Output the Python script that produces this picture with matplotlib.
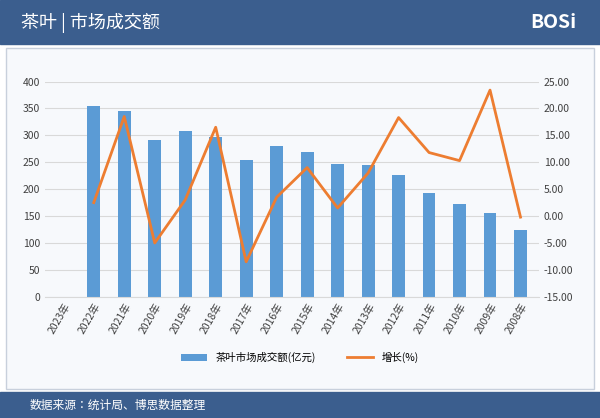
import matplotlib
matplotlib.use("Agg")
import matplotlib.pyplot as plt
import numpy as np
from matplotlib import font_manager
names = {f.name for f in font_manager.fontManager.ttflist}
cjk = [n for n in ["Noto Sans CJK SC","Noto Sans CJK JP","Noto Sans CJK TC","Noto Sans CJK KR"] if n in names]
plt.rcParams['font.family'] = cjk + ['DejaVu Sans']

years = ["2023年","2022年","2021年","2020年","2019年","2018年","2017年","2016年","2015年","2014年","2013年","2012年","2011年","2010年","2009年","2008年"]
turnover = [np.nan,355,346,292,308,297,255,280,269,247,244,226,192,172,156,125]
growth = [np.nan,2.5,18.5,-5.0,3.0,16.5,-8.5,3.5,9.0,1.5,8.0,18.3,11.8,10.3,23.4,-0.2]

fig = plt.figure(figsize=(6,4.18), dpi=100)
fig.patch.set_facecolor("white")
hdr = "#3b5e8e"
fig.add_artist(plt.Rectangle((0,0.895),1,0.105,color=hdr,transform=fig.transFigure,zorder=-5))
fig.add_artist(plt.Rectangle((0,0),1,0.062,color=hdr,transform=fig.transFigure,zorder=-5))
fig.add_artist(plt.Rectangle((0.01,0.07),0.98,0.815,facecolor="#f7f9fc",edgecolor="#c8d0dc",transform=fig.transFigure,zorder=-5))
fig.text(0.035,0.945,"茶叶 | 市场成交额",color="white",fontsize=13,va="center")
fig.text(0.05,0.031,"数据来源：统计局、博思数据整理",color="white",fontsize=8.5,va="center")
fig.text(0.96,0.945,"BOSi",color="white",fontsize=14,fontweight="bold",va="center",ha="right")

ax = fig.add_axes([0.075,0.29,0.823,0.515])
ax.set_facecolor("none")
x = np.arange(len(years))
ax.bar(x,turnover,width=0.42,color="#5b9bd5",label="茶叶市场成交额(亿元)",zorder=2)
ax.set_ylim(0,400); ax.set_yticks(range(0,401,50))
ax.set_xlim(-0.6,len(years)-0.4)
ax.set_xticks(x); ax.set_xticklabels(years,rotation=60,ha="right",rotation_mode="anchor",fontsize=7.5)
ax.grid(axis="y",color="#d9d9d9",lw=0.8,zorder=0)
for s in ax.spines.values(): s.set_visible(False)
ax.spines["bottom"].set_visible(True); ax.spines["bottom"].set_color("#d9d9d9")
ax.tick_params(length=0,labelsize=7.5,colors="#404040")
ax2 = ax.twinx()
ax2.plot(x,growth,color="#ed7d31",lw=2,label="增长(%)")
ax2.set_ylim(-15,25); ax2.set_yticks(range(-15,26,5))
ax2.set_yticklabels([f"{v:.2f}" for v in range(-15,26,5)])
for s in ax2.spines.values(): s.set_visible(False)
ax2.tick_params(length=0,labelsize=7.5,colors="#404040")
h1,l1 = ax.get_legend_handles_labels(); h2,l2 = ax2.get_legend_handles_labels()
fig.legend(h1+h2,l1+l2,loc="center",bbox_to_anchor=(0.5,0.145),ncol=2,frameon=False,fontsize=7.5,handlelength=2.5,columnspacing=3)
fig.savefig("out.png",dpi=100)
